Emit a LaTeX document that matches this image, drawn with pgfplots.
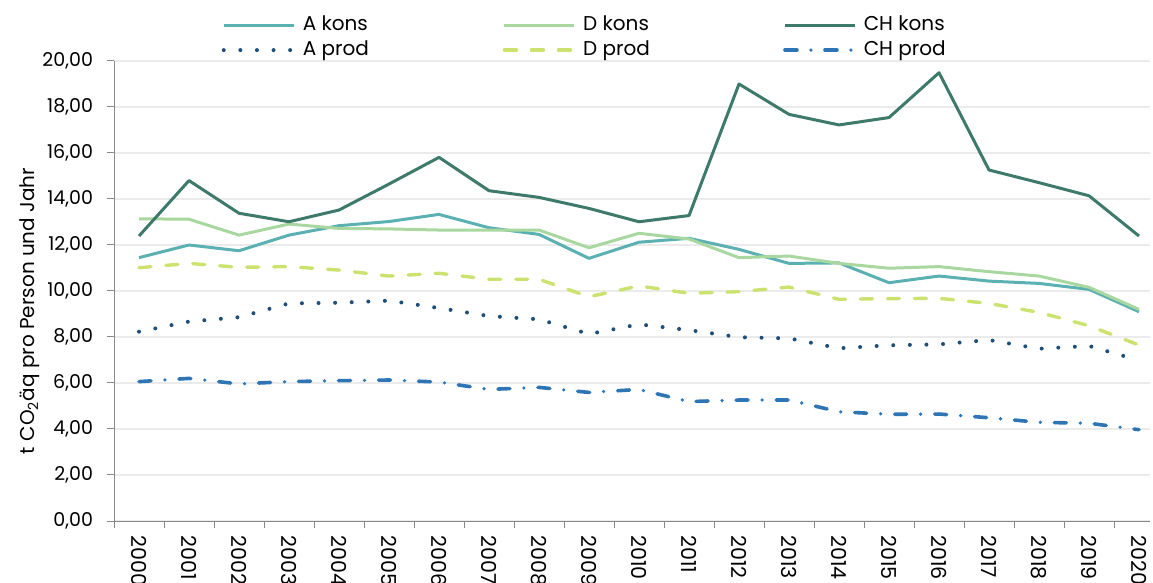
\documentclass[border=0pt]{standalone}
\usepackage{fontspec}
\setmainfont{Poppins}
\usepackage{pgfplots}
\usepackage{pgfplotstable}
\pgfplotsset{compat=1.18}
\definecolor{akons}{RGB}{91,176,178}
\definecolor{dkons}{RGB}{168,216,160}
\definecolor{chkons}{RGB}{62,122,106}
\definecolor{aprod}{RGB}{31,78,121}
\definecolor{dprod}{RGB}{204,226,110}
\definecolor{chprod}{RGB}{46,117,182}
\definecolor{axisgray}{RGB}{137,137,137}
\definecolor{gridgray}{RGB}{235,235,235}

\pgfplotstableread{
x akons dkons chkons aprod dprod chprod
0  11.45 13.14 12.39 8.23 11.01 6.06
1  12.00 13.12 14.80 8.67 11.20 6.20
2  11.75 12.43 13.38 8.86 11.03 5.96
3  12.43 12.91 13.01 9.46 11.06 6.06
4  12.84 12.72 13.52 9.49 10.91 6.10
5  13.02 12.70 14.65 9.58 10.65 6.13
6  13.33 12.65 15.81 9.26 10.77 6.04
7  12.75 12.65 14.36 8.91 10.51 5.72
8  12.46 12.65 14.07 8.77 10.51 5.81
9  11.42 11.88 13.59 8.13 9.75 5.59
10 12.12 12.51 13.01 8.55 10.22 5.72
11 12.29 12.26 13.28 8.30 9.90 5.19
12 11.81 11.45 19.00 7.99 9.97 5.26
13 11.20 11.52 17.68 7.94 10.17 5.26
14 11.22 11.20 17.22 7.51 9.64 4.75
15 10.36 10.99 17.54 7.64 9.67 4.64
16 10.65 11.06 19.49 7.68 9.68 4.65
17 10.43 10.84 15.26 7.87 9.46 4.49
18 10.33 10.65 14.71 7.49 9.07 4.29
19 10.07 10.16 14.14 7.61 8.49 4.25
20 9.10  9.20  12.39 6.98 7.65 3.97
}\data

\begin{document}
\begin{tikzpicture}
\begin{axis}[name=ax, at={(0,0)}, anchor=south west,
  width=518pt, height=230pt, scale only axis,
  xmin=-0.5, xmax=20.22, ymin=0, ymax=20,
  axis x line*=bottom, axis y line*=left,
  axis line style={draw=axisgray, line width=0.5pt, -},
  tick align=outside,
  major tick length=3.5pt, minor tick length=3.5pt,
  tick style={draw=axisgray, line width=0.5pt},
  major x tick style={draw=none},
  ytick={0,2,...,20},
  xtick={0,...,20},
  xticklabels={2000,2001,2002,2003,2004,2005,2006,2007,2008,2009,2010,2011,2012,2013,2014,2015,2016,2017,2018,2019,2020},
  minor xtick={-0.5,0.5,...,19.5},
  /pgf/number format/assume math mode=true,
  y tick label style={/pgf/number format/fixed, /pgf/number format/fixed zerofill, /pgf/number format/precision=2, /pgf/number format/use comma, font=\fontsize{9.5}{11}\selectfont},
  yticklabel shift=3.5pt,
  x tick label style={rotate=-90, anchor=west, inner sep=0pt, font=\fontsize{10.3}{12}\selectfont},
  xticklabel shift=3.5pt,
  ymajorgrids, major grid style={draw=gridgray, line width=0.75pt},
  ylabel={t CO\textsubscript{2}äq pro Person und Jahr},
  ylabel style={at={(axis description cs:-0.0811,0.4565)}, anchor=center, font=\fontsize{10}{12}\selectfont},
  legend columns=3,
  legend cell align=left,
  legend style={at={(0.104,1.1)}, anchor=north west, draw=none, fill=none, inner sep=0pt, outer sep=0pt, row sep=1.8pt, column sep=0pt, nodes={inner sep=0pt, text height=8pt, text depth=2.5pt, font=\fontsize{10}{12}\selectfont}},
  legend image code/.code={\draw[#1] (0pt,0pt) -- (35pt,0pt);},
]
\addplot[akons, line width=1.5pt, line join=round] table[x=x,y=akons]{\data};
\addlegendentry{\hspace*{3.5pt}\makebox[100pt][l]{A kons}}
\addplot[dkons, line width=1.5pt, line join=round] table[x=x,y=dkons]{\data};
\addlegendentry{\hspace*{3.5pt}\makebox[100pt][l]{D kons}}
\addplot[chkons, line width=1.5pt, line join=round] table[x=x,y=chkons]{\data};
\addlegendentry{\hspace*{3.5pt}CH kons}
\addplot[aprod, line width=2pt, line cap=round, dash pattern=on 0pt off 8.3pt] table[x=x,y=aprod]{\data};
\addlegendentry{\hspace*{3.5pt}\makebox[100pt][l]{A prod}}
\addplot[dprod, line width=1.7pt, line cap=round, dash pattern=on 6pt off 7.5pt] table[x=x,y=dprod]{\data};
\addlegendentry{\hspace*{3.5pt}\makebox[100pt][l]{D prod}}
\addplot[chprod, line width=1.8pt, line cap=round, dash pattern=on 6pt off 7pt on 0pt off 7pt] table[x=x,y=chprod]{\data};
\addlegendentry{\hspace*{3.5pt}CH prod}
\end{axis}
\pgfresetboundingbox
\useasboundingbox ([shift={(-57pt,-30.5pt)}]ax.south west) rectangle ([shift={(1.5pt,30.5pt)}]ax.north east);
\end{tikzpicture}
\end{document}
